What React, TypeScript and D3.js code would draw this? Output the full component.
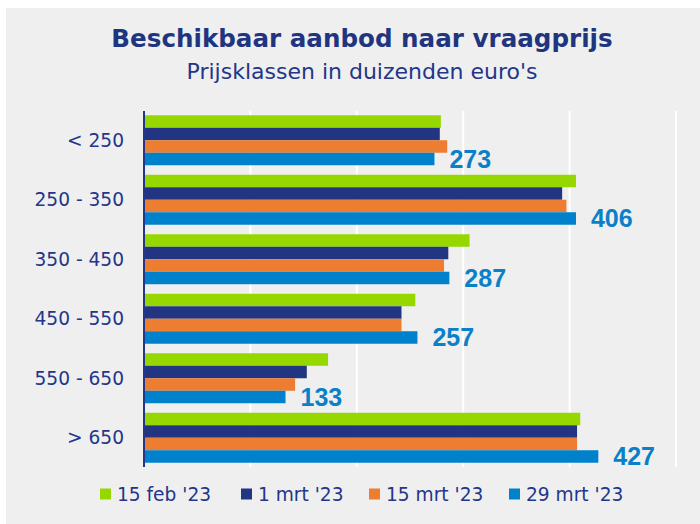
import React, { useEffect, useRef } from "react";
import * as d3 from "d3";

const categories = ["< 250", "250 - 350", "350 - 450", "450 - 550", "550 - 650", "> 650"];
const seriesNames = ["15 feb '23", "1 mrt '23", "15 mrt '23", "29 mrt '23"];
const feb15 = [279, 406, 306, 255, 173, 410];
const mrt1 = [278, 393, 286, 242, 153, 407];
const mrt15 = [285, 397, 282, 242, 142, 407];
const mrt29 = [273, 406, 287, 257, 133, 427];
const xTicks = [0, 100, 200, 300, 400, 500];
const colors = ["#97d700", "#213583", "#ed7d31", "#0081cc"];

const W = 700;
const H = 524;
const FONT = "'DejaVu Sans', sans-serif";
const NAVY = "#233689";

export default function App() {
  const ref = useRef<SVGSVGElement>(null);

  useEffect(() => {
    const svg = d3.select(ref.current);
    svg.selectAll("*").remove();

    const allSeries = [feb15, mrt1, mrt15, mrt29];

    svg.append("rect").attr("width", W).attr("height", H).attr("fill", "#fff");
    svg.append("rect").attr("x", 6).attr("y", 8).attr("width", W - 6).attr("height", H - 8).attr("fill", "#efefef");

    const x = d3.scaleLinear().domain([0, 500]).range([144, 676]);
    const y = d3.scaleBand<string>().domain(categories).range([110.5, 467.5]).paddingInner(0.16).paddingOuter(0.08);
    const inner = d3.scaleBand<number>().domain(d3.range(4)).range([0, y.bandwidth()]);

    // gridlines
    svg.append("g")
      .selectAll("line")
      .data(xTicks.slice(1))
      .join("line")
      .attr("x1", (d) => x(d))
      .attr("x2", (d) => x(d))
      .attr("y1", 111)
      .attr("y2", 467)
      .attr("stroke", "#ffffff")
      .attr("stroke-width", 2);

    // bars
    const groups = svg.append("g")
      .selectAll("g")
      .data(categories)
      .join("g")
      .attr("transform", (c) => `translate(0,${y(c)})`);

    groups.selectAll("rect")
      .data((c, i) => allSeries.map((s, k) => ({ k, v: s[i] })))
      .join("rect")
      .attr("x", x(0))
      .attr("y", (d) => inner(d.k)!)
      .attr("width", (d) => x(d.v) - x(0))
      .attr("height", inner.bandwidth())
      .attr("fill", (d) => colors[d.k]);

    // value labels on last series
    groups.append("text")
      .attr("x", (c, i) => x(mrt29[i]) + 15)
      .attr("y", inner(3)! + inner.bandwidth() / 2)
      .attr("dy", "0.36em")
      .attr("font-family", "'Liberation Sans', Arial, sans-serif")
      .attr("font-weight", "bold")
      .attr("font-size", 25)
      .attr("fill", "#0a80c9")
      .text((c, i) => String(mrt29[i]));

    // category axis
    svg.append("line")
      .attr("x1", x(0)).attr("x2", x(0))
      .attr("y1", 111).attr("y2", 467)
      .attr("stroke", NAVY).attr("stroke-width", 2);

    svg.append("g")
      .selectAll("text")
      .data(categories)
      .join("text")
      .attr("x", 124)
      .attr("y", (c) => y(c)! + y.bandwidth() / 2)
      .attr("dy", "0.35em")
      .attr("text-anchor", "end")
      .attr("font-family", FONT)
      .attr("font-size", 18.6)
      .attr("fill", NAVY)
      .text((c) => c);

    // titles
    svg.append("text")
      .attr("x", 362).attr("y", 47)
      .attr("text-anchor", "middle")
      .attr("font-family", FONT)
      .attr("font-weight", "bold")
      .attr("font-size", 24.6)
      .attr("fill", "#1f3580")
      .text("Beschikbaar aanbod naar vraagprijs");

    svg.append("text")
      .attr("x", 362).attr("y", 79)
      .attr("text-anchor", "middle")
      .attr("font-family", FONT)
      .attr("font-size", 22)
      .attr("fill", NAVY)
      .text("Prijsklassen in duizenden euro's");

    // legend
    const legendX = [100, 241, 369, 509];
    const leg = svg.append("g")
      .selectAll("g")
      .data(seriesNames)
      .join("g")
      .attr("transform", (d, i) => `translate(${legendX[i]},494)`);
    leg.append("rect")
      .attr("x", 0).attr("y", -5.5)
      .attr("width", 11).attr("height", 11)
      .attr("fill", (d, i) => colors[i]);
    leg.append("text")
      .attr("x", 17)
      .attr("dy", "0.35em")
      .attr("font-family", FONT)
      .attr("font-size", 18.6)
      .attr("fill", NAVY)
      .text((d) => d);
  }, []);

  return (
    <svg ref={ref} width={W} height={H} style={{ position: "absolute", left: 0, top: 0 }} />
  );
}
